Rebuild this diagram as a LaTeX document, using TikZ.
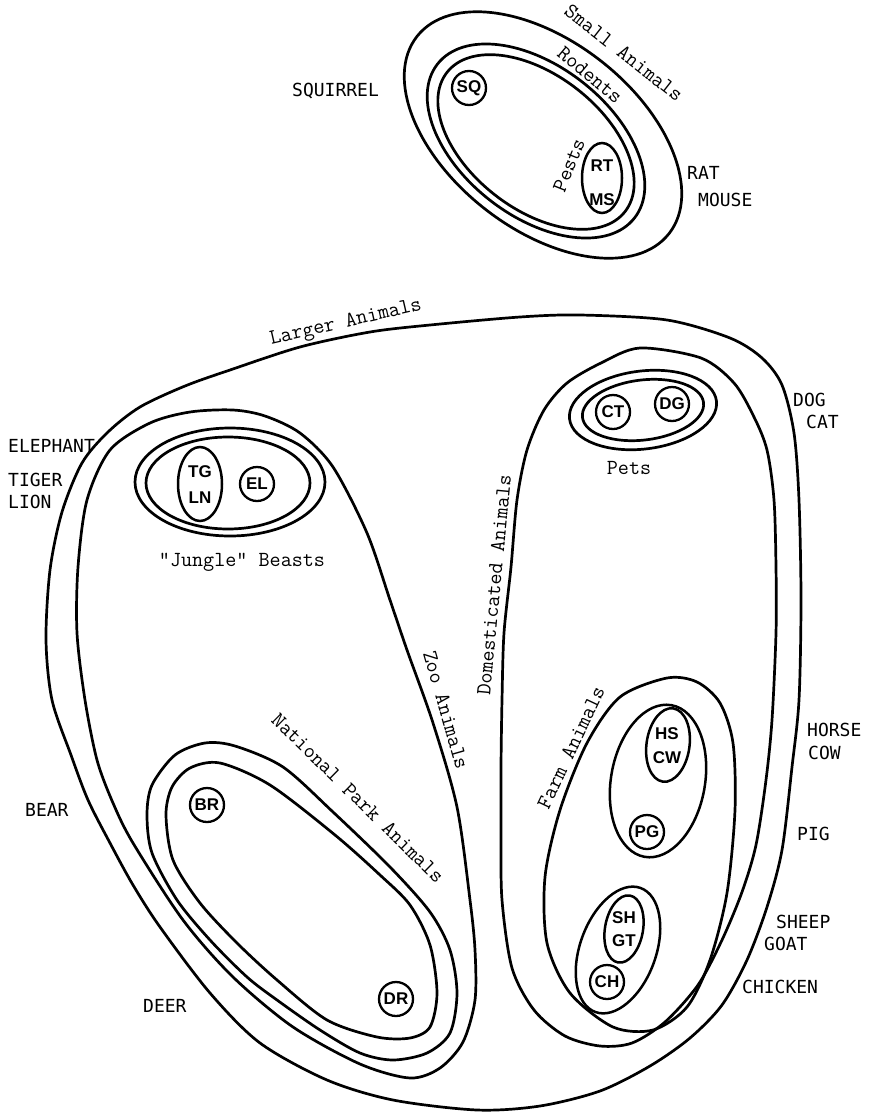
\documentclass[tikz,border=0pt]{standalone}
\usepackage{fontspec}
\newfontfamily\namefont{DejaVu Sans Mono}
\newfontfamily\abbrfont{Liberation Sans}
\usetikzlibrary{shapes.geometric}
\begin{document}
\begin{tikzpicture}[x=1pt,y=-1pt,
  ring/.style={line width=2.7pt},
  spot/.style={draw, circle, line width=2.3pt, minimum size=34, inner sep=0pt, font=\abbrfont\bfseries\fontsize{17}{17}\selectfont},
  oval/.style={draw, ellipse, line width=2.5pt, inner sep=0pt},
  abbr/.style={inner sep=0pt, font=\abbrfont\bfseries\fontsize{17}{17}\selectfont},
  cat/.style={inner sep=0pt, font=\ttfamily\fontsize{21.5}{22}\selectfont},
  animal/.style={inner sep=0pt, anchor=west, font=\namefont\fontsize{18}{18}\selectfont}]
\useasboundingbox (0,0) rectangle (868,1114);

% ---------------- Small animals ----------------
\draw[ring, rotate around={-38:(543,135)}] (543,135) ellipse [x radius=160, y radius=94];
\draw[ring, rotate around={-38:(536,141)}] (536,141) ellipse [x radius=125, y radius=75];
\draw[ring, rotate around={-38:(536,142)}] (536,142) ellipse [x radius=113, y radius=67];
\node[spot] (sq) at (469,88) {SQ};
\node[oval, minimum width=40, minimum height=70] (pestsoval) at (602,178) {};
\node[abbr] (rt) at (602,166) {RT};
\node[abbr] (ms) at (602,200) {MS};
\node[cat, rotate=-38] (lsmall) at (624,53) {Small Animals};
\node[cat, rotate=-40] (lrod) at (590,75) {Rodents};
\node[cat, rotate=68] (lpests) at (569,165) {Pests};
\node[animal] (squirrel) at (292,91) {SQUIRREL};
\node[animal] (rat) at (687,173) {RAT};
\node[animal] (mouse) at (698,200) {MOUSE};

% ---------------- Larger animals ----------------
\draw[ring] plot[smooth cycle] coordinates {(46,640) (50,570) (62,512) (82,463) (108,432) (140,407) (185,386) (230,370) (300,347) (370,332) (430,325) (520,317) (580,315) (667,320) (730,338) (762,358) (782,385) (794,433) (799,500) (801,600) (799,700) (792,767) (782,850) (767,907) (747,960) (722,1005) (690,1038) (650,1066) (600,1091) (540,1106) (477,1110) (393,1100) (327,1080) (260,1043) (210,993) (160,927) (133,885) (110,843) (88,800) (71,755) (52,700)};
\node[cat, rotate=13] (llarger) at (346,323) {Larger Animals};
\node[animal] (elephant) at (8,446) {ELEPHANT};
\node[animal] (tiger) at (8,480) {TIGER};
\node[animal] (lion) at (8,502) {LION};

% ---------------- Zoo animals ----------------
\draw[ring] plot[smooth cycle] coordinates {(85,700) (97,760) (113,803) (133,843) (183,920) (233,977) (293,1027) (360,1064) (410,1078) (440,1068) (463,1042) (475,1000) (475,950) (470,900) (457,807) (433,723) (407,650) (390,600) (367,533) (333,467) (300,433) (265,416) (233,410) (190,412) (150,423) (110,450) (87,500) (78,567) (77,633)};
\node[cat, rotate=-74] (lzoo) at (446,710) {Zoo Animals};

% jungle beasts
\draw[ring] (230,482) ellipse [x radius=95, y radius=54];
\draw[ring] (228,483) ellipse [x radius=82, y radius=46];
\node[oval, minimum width=44, minimum height=74] (tgln) at (200,484) {};
\node[abbr] (tg) at (200,472) {TG};
\node[abbr] (ln) at (200,498) {LN};
\node[spot] (el) at (257,484) {EL};
\node[cat] (ljungle) at (242,562) {"Jungle" Beasts};

% national park animals
\draw[ring] plot[smooth cycle] coordinates {(147,815) (152,785) (175,755) (205,743) (235,746) (283,767) (333,812) (390,867) (430,912) (450,950) (457,993) (450,1033) (427,1053) (393,1060) (360,1053) (320,1030) (277,1000) (247,977) (210,940) (177,900) (152,853)};
\draw[ring] plot[smooth cycle] coordinates {(166,815) (172,787) (190,768) (220,763) (270,785) (335,835) (380,875) (410,905) (430,945) (437,993) (430,1027) (410,1038) (377,1037) (327,1020) (277,980) (237,943) (200,903) (173,860)};
\node[cat, rotate=-44.5] (lnp) at (358,798) {National Park Animals};
\node[spot] (br) at (207,805) {BR};
\node[spot] (dr) at (396,999) {DR};
\node[animal] (bear) at (25,810) {BEAR};
\node[animal] (deer) at (143,1006) {DEER};

% ---------------- Domesticated animals ----------------
\draw[ring] plot[smooth cycle] coordinates {(640,348) (701,358) (734,383) (754,417) (767,450) (774,500) (776,567) (776,633) (772,720) (766,780) (756,845) (742,892) (722,940) (698,985) (665,1022) (632,1043) (600,1046) (565,1036) (534,1010) (512,968) (502,900) (501,833) (501,767) (502,700) (504,633) (511,567) (517,500) (527,450) (544,410) (567,383) (601,363)};
\node[cat, rotate=84.5] (ldom) at (494,585) {Domesticated Animals};

% pets
\draw[ring, rotate around={7:(643,410)}] (643,410) ellipse [x radius=74, y radius=39];
\draw[ring, rotate around={7:(643,410)}] (643,410) ellipse [x radius=61, y radius=30];
\node[spot] (ct) at (613,412) {CT};
\node[spot] (dg) at (672,404) {DG};
\node[cat] (lpets) at (629,468) {Pets};
\node[animal] (dog) at (793,400) {DOG};
\node[animal] (cat) at (806,422) {CAT};

% farm animals
\draw[ring] plot[smooth cycle] coordinates {(667,678) (697,682) (720,703) (733,743) (735,810) (727,893) (710,960) (687,1007) (653,1030) (613,1027) (570,993) (547,943) (545,877) (560,810) (587,743) (620,697)};
\node[cat, rotate=64.7] (lfarm) at (571,748) {Farm Animals};
\node[oval, minimum width=94, minimum height=154, rotate=-10] (gbig) at (658,781) {};
\node[oval, minimum width=43, minimum height=74, rotate=-8] (hscw) at (668,745) {};
\node[abbr] (hs) at (667,734) {HS};
\node[abbr] (cw) at (667,758) {CW};
\node[spot] (pg) at (647,832) {PG};
\node[oval, minimum width=76, minimum height=132, rotate=-20] (gsmall) at (618,950) {};
\node[oval, minimum width=38, minimum height=68, rotate=-10] (shgt) at (624,929) {};
\node[abbr] (sh) at (624,918) {SH};
\node[abbr] (gt) at (624,941) {GT};
\node[spot] (ch) at (607,982) {CH};
\node[animal] (horse) at (807,730) {HORSE};
\node[animal] (cow) at (808,753) {COW};
\node[animal] (pig) at (797,834) {PIG};
\node[animal] (sheep) at (776,922) {SHEEP};
\node[animal] (goat) at (764,944) {GOAT};
\node[animal] (chicken) at (742,987) {CHICKEN};
\end{tikzpicture}
\end{document}
